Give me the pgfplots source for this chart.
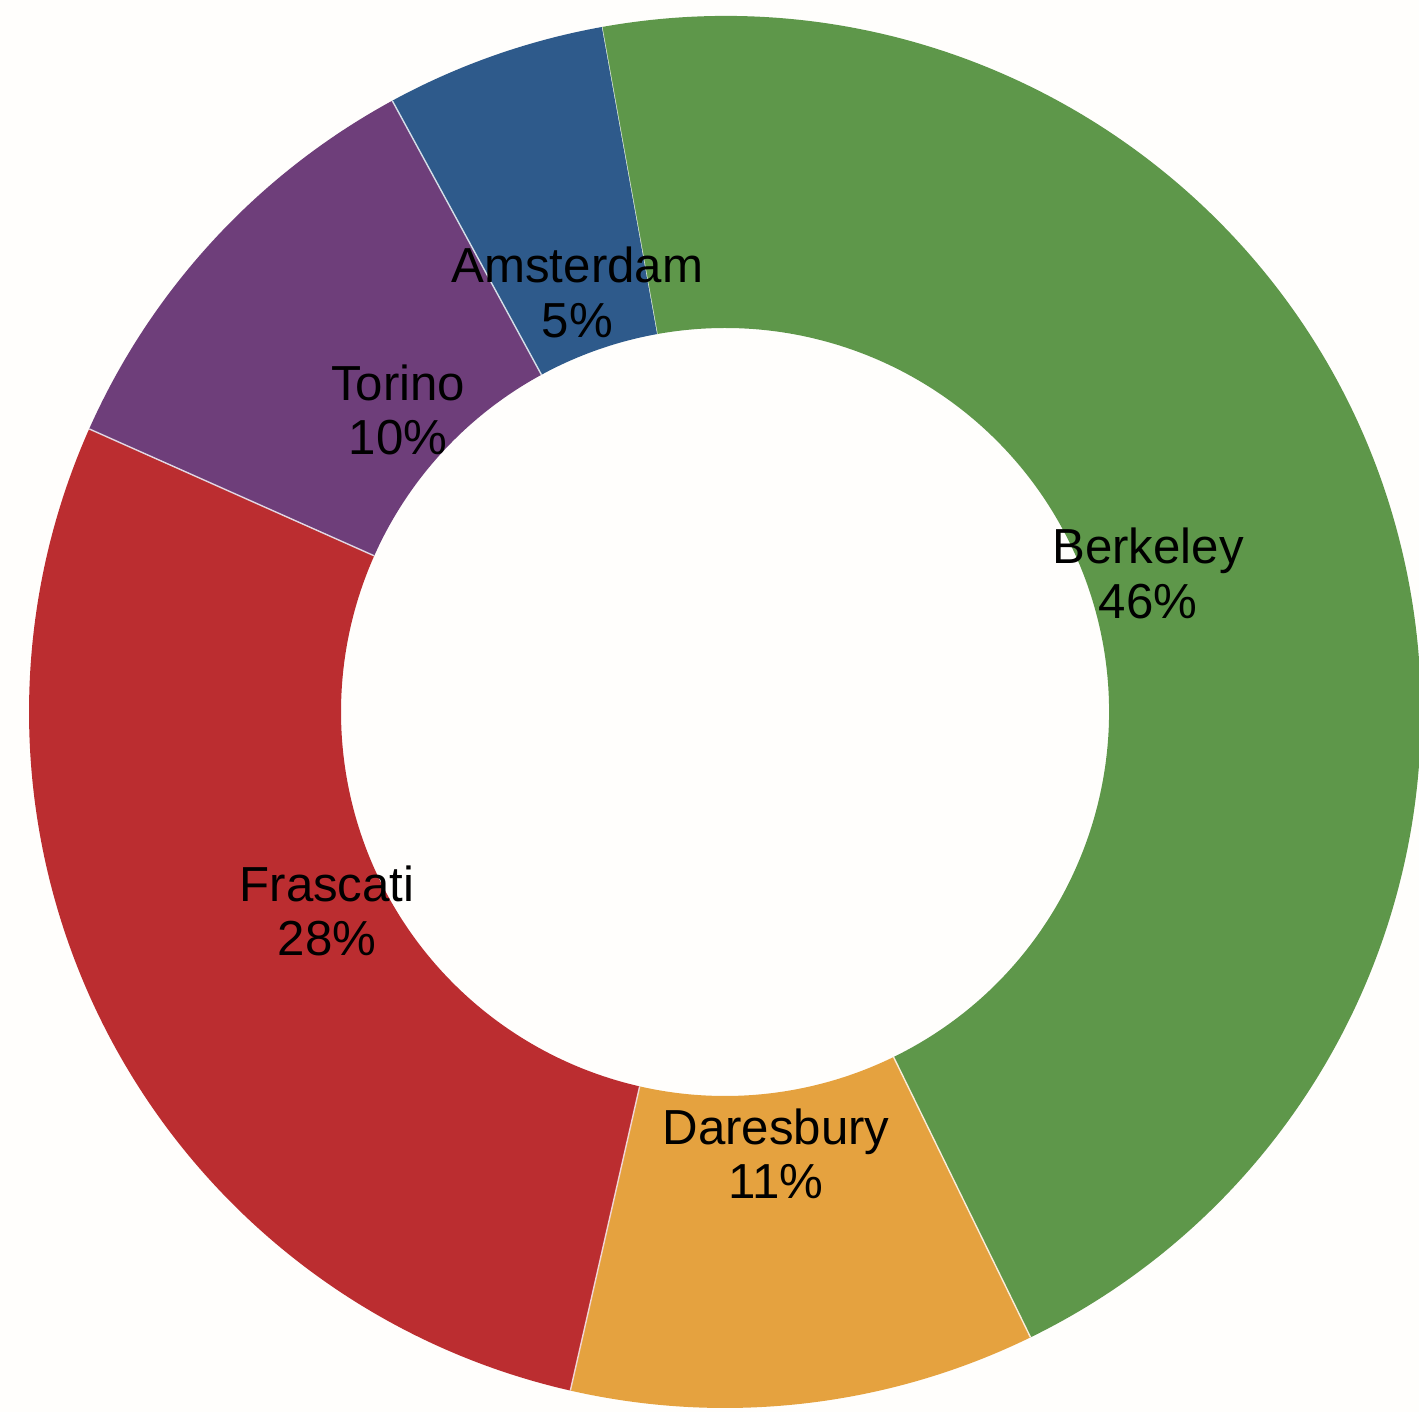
\documentclass[border=0pt]{standalone}
\usepackage{pgfplots}
\pgfplotsset{compat=1.18}
\usepackage{fontspec}
\setmainfont{Liberation Sans}
\definecolor{cBerk}{HTML}{5E974A}
\definecolor{cDare}{HTML}{E5A23F}
\definecolor{cFras}{HTML}{BB2D30}
\definecolor{cTor}{HTML}{6E3E7A}
\definecolor{cAms}{HTML}{2E5A8B}
\definecolor{bg}{HTML}{FFFEFC}
\begin{document}
\begin{tikzpicture}
\begin{axis}[hide axis, scale only axis, width=14.19cm, height=14.12cm,
  xmin=-7.25, xmax=6.94, ymin=-7.00, ymax=7.12, clip=true]
\fill[bg] (axis cs:-7.25,-7.00) rectangle (axis cs:6.94,7.12);
\pgfplotsextra{
  \xdef\angA{100.2}
  \foreach \v/\p/\c/\n in {45.6/46/cBerk/Berkeley, 10.8/11/cDare/Daresbury, 28.1/28/cFras/Frascati, 10.4/10/cTor/Torino, 5.1/5/cAms/Amsterdam}{
    \pgfmathsetmacro\angB{\angA-3.6*\v}
    \pgfmathsetmacro\angM{(\angA+\angB)/2}
    \fill[\c]
      ([shift={(\angA:6.96cm)}]axis cs:0,0) arc[start angle=\angA, end angle=\angB, radius=6.96cm]
      -- ([shift={(\angB:3.84cm)}]axis cs:0,0) arc[start angle=\angB, end angle=\angA, radius=3.84cm] -- cycle;
    \draw[white!80!\c, line width=0.4pt] ([shift={(\angA:3.84cm)}]axis cs:0,0) -- ([shift={(\angA:6.96cm)}]axis cs:0,0);
    \node[align=center, font=\fontsize{14}{15.5}\selectfont, inner sep=0pt] at ([shift={(\angM:4.45cm)}]axis cs:0,0) {\n\\\p\%};
    \xdef\angA{\angB}
  }
}
\end{axis}
\end{tikzpicture}
\end{document}
